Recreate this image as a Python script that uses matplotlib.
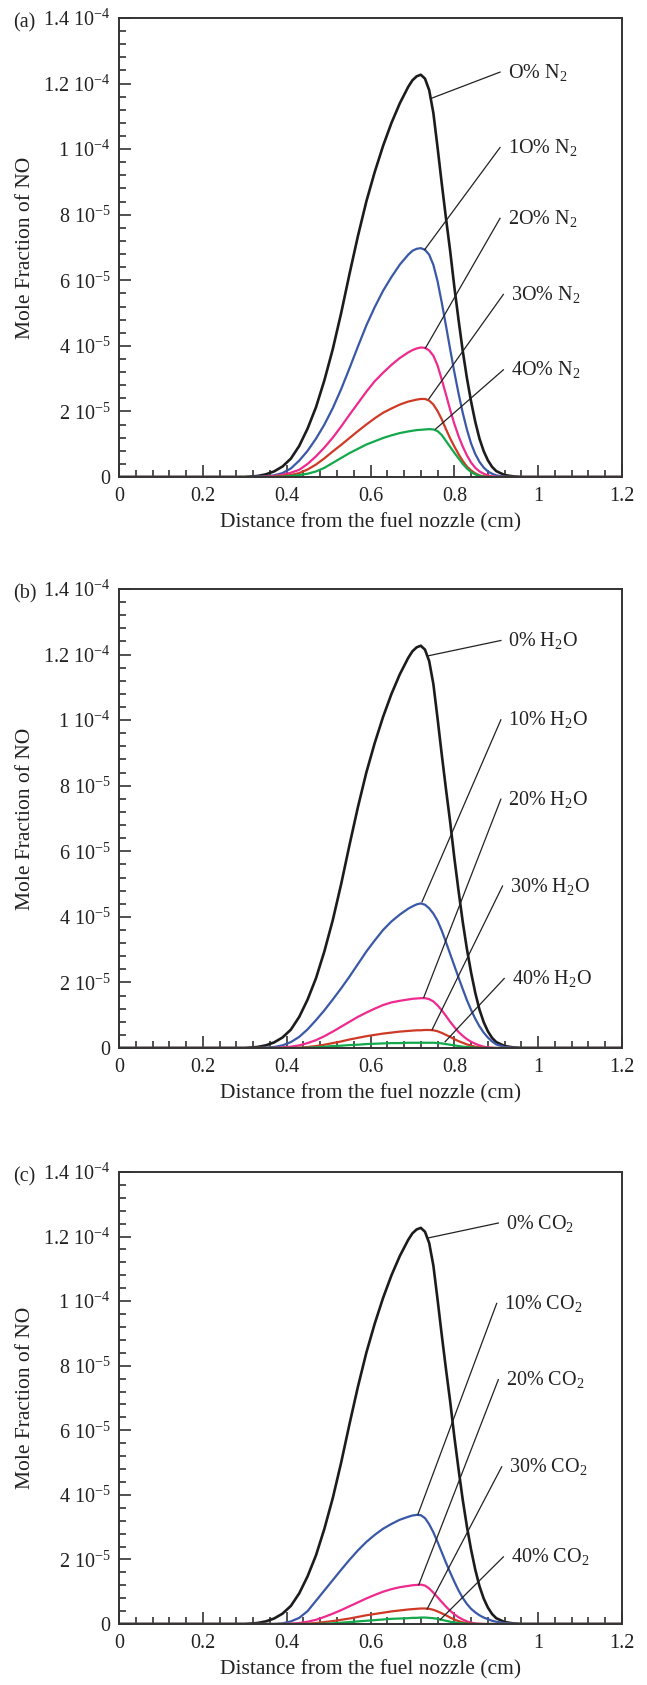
import matplotlib
matplotlib.use('Agg')
import matplotlib.pyplot as plt
import numpy as np
from matplotlib.ticker import FixedLocator, MultipleLocator

plt.rcParams['font.family'] = ['Liberation Serif', 'DejaVu Serif']
plt.rcParams['mathtext.fontset'] = 'custom'
plt.rcParams['mathtext.rm'] = 'Liberation Serif'
plt.rcParams['mathtext.it'] = 'Liberation Serif:italic'
plt.rcParams['mathtext.bf'] = 'Liberation Serif:bold'

# distance from the fuel nozzle (cm), shared by every curve
x_cm = [0.0, 0.30, 0.33, 0.35, 0.37, 0.39, 0.41, 0.43, 0.45, 0.47, 0.49,
        0.51, 0.53, 0.55, 0.57, 0.59, 0.61, 0.63, 0.65, 0.67, 0.69,
        0.70, 0.71, 0.72, 0.73, 0.74, 0.75, 0.76, 0.77, 0.78, 0.79, 0.80,
        0.81, 0.82, 0.83, 0.84, 0.85, 0.86, 0.87, 0.88, 0.89, 0.90,
        0.92, 0.94, 0.96, 0.98, 1.2]

# NO mole fraction in units of 1e-5
no_0 = [0, 0, 0.03, 0.08, 0.17, 0.32, 0.56, 0.95, 1.48, 2.13, 2.95,
        3.9, 5.0, 6.2, 7.35, 8.4, 9.3, 10.1, 10.8, 11.4, 11.9,
        12.1, 12.22, 12.27, 12.15, 11.8, 11.1, 10.05, 8.95, 7.9, 6.9, 5.8,
        4.8, 3.85, 3.02, 2.3, 1.68, 1.17, 0.79, 0.51, 0.31, 0.18,
        0.06, 0.02, 0, 0, 0]

n2_10 = [0, 0, 0.01, 0.02, 0.05, 0.12, 0.26, 0.5, 0.8, 1.17, 1.6,
         2.1, 2.68, 3.32, 3.98, 4.62, 5.18, 5.68, 6.1, 6.48, 6.78,
         6.9, 6.96, 6.98, 6.93, 6.78, 6.47, 5.97, 5.32, 4.62, 3.9, 3.2,
         2.55, 1.96, 1.45, 1.02, 0.7, 0.46, 0.29, 0.17, 0.1, 0.05,
         0.01, 0, 0, 0, 0]
n2_20 = [0, 0, 0, 0.01, 0.03, 0.07, 0.13, 0.22, 0.4, 0.63, 0.9,
         1.2, 1.54, 1.9, 2.25, 2.6, 2.92, 3.18, 3.42, 3.63, 3.8,
         3.87, 3.92, 3.95, 3.94, 3.86, 3.7, 3.4, 2.97, 2.52, 2.05, 1.62,
         1.25, 0.93, 0.66, 0.44, 0.28, 0.17, 0.1, 0.05, 0.02, 0.01,
         0, 0, 0, 0, 0]
n2_30 = [0, 0, 0, 0, 0.01, 0.03, 0.06, 0.12, 0.23, 0.38, 0.57,
         0.78, 0.98, 1.19, 1.4, 1.6, 1.79, 1.96, 2.09, 2.21, 2.3,
         2.33, 2.36, 2.38, 2.38, 2.33, 2.21, 2.01, 1.76, 1.46, 1.18, 0.93,
         0.7, 0.49, 0.32, 0.2, 0.11, 0.05, 0.02, 0.01, 0, 0,
         0, 0, 0, 0, 0]
n2_40 = [0, 0, 0, 0, 0, 0.01, 0.03, 0.06, 0.1, 0.17, 0.28,
         0.43, 0.58, 0.73, 0.86, 0.99, 1.09, 1.19, 1.27, 1.34, 1.39,
         1.41, 1.43, 1.44, 1.45, 1.46, 1.45, 1.4, 1.28, 1.1, 0.92, 0.74,
         0.57, 0.4, 0.26, 0.15, 0.08, 0.03, 0.01, 0, 0, 0,
         0, 0, 0, 0, 0]

h2o_10 = [0, 0, 0, 0.01, 0.03, 0.08, 0.18, 0.34, 0.57, 0.85, 1.15,
          1.48, 1.82, 2.18, 2.56, 2.94, 3.28, 3.6, 3.86, 4.07, 4.25,
          4.32, 4.38, 4.41, 4.37, 4.26, 4.1, 3.88, 3.58, 3.23, 2.87, 2.51,
          2.15, 1.8, 1.46, 1.16, 0.89, 0.66, 0.47, 0.32, 0.2, 0.11,
          0.03, 0.01, 0, 0, 0]
h2o_20 = [0, 0, 0, 0, 0, 0.02, 0.04, 0.08, 0.15, 0.24, 0.36,
          0.5, 0.65, 0.8, 0.95, 1.08, 1.2, 1.31, 1.39, 1.44, 1.48,
          1.5, 1.51, 1.52, 1.52, 1.49, 1.42, 1.3, 1.15, 0.98, 0.8, 0.64,
          0.49, 0.37, 0.27, 0.19, 0.13, 0.08, 0.04, 0.02, 0.01, 0,
          0, 0, 0, 0, 0]
h2o_30 = [0, 0, 0, 0, 0, 0, 0, 0.01, 0.03, 0.06, 0.1,
          0.15, 0.2, 0.26, 0.31, 0.36, 0.4, 0.44, 0.47, 0.5, 0.52,
          0.53, 0.54, 0.54, 0.55, 0.55, 0.54, 0.51, 0.46, 0.4, 0.34, 0.27,
          0.21, 0.16, 0.11, 0.07, 0.04, 0.02, 0.01, 0, 0, 0,
          0, 0, 0, 0, 0]
h2o_40 = [0, 0, 0, 0, 0, 0, 0, 0, 0.01, 0.02, 0.04,
          0.06, 0.07, 0.09, 0.1, 0.12, 0.13, 0.14, 0.15, 0.15, 0.16,
          0.16, 0.16, 0.16, 0.16, 0.16, 0.16, 0.15, 0.14, 0.12, 0.1, 0.08,
          0.06, 0.04, 0.03, 0.02, 0.01, 0, 0, 0, 0, 0,
          0, 0, 0, 0, 0]

co2_10 = [0, 0, 0, 0, 0, 0.02, 0.08, 0.19, 0.4, 0.72, 1.04,
          1.36, 1.68, 1.99, 2.28, 2.54, 2.76, 2.95, 3.1, 3.23, 3.32,
          3.36, 3.38, 3.37, 3.28, 3.09, 2.84, 2.54, 2.22, 1.9, 1.6, 1.31,
          1.04, 0.81, 0.62, 0.47, 0.36, 0.27, 0.2, 0.15, 0.1, 0.07,
          0.03, 0.01, 0, 0, 0]
co2_20 = [0, 0, 0, 0, 0, 0, 0.01, 0.03, 0.07, 0.13, 0.22,
          0.32, 0.43, 0.55, 0.67, 0.79, 0.9, 1.0, 1.08, 1.14, 1.18,
          1.2, 1.21, 1.22, 1.19, 1.1, 0.97, 0.83, 0.68, 0.54, 0.41, 0.3,
          0.21, 0.14, 0.08, 0.04, 0.02, 0.01, 0, 0, 0, 0,
          0, 0, 0, 0, 0]
co2_30 = [0, 0, 0, 0, 0, 0, 0, 0, 0.01, 0.03, 0.06,
          0.09, 0.13, 0.17, 0.22, 0.27, 0.31, 0.35, 0.39, 0.42, 0.45,
          0.46, 0.47, 0.48, 0.48, 0.47, 0.44, 0.39, 0.33, 0.27, 0.2, 0.14,
          0.09, 0.05, 0.03, 0.01, 0, 0, 0, 0, 0, 0,
          0, 0, 0, 0, 0]
co2_40 = [0, 0, 0, 0, 0, 0, 0, 0, 0, 0, 0.01,
          0.02, 0.04, 0.06, 0.08, 0.1, 0.12, 0.14, 0.16, 0.17, 0.18,
          0.19, 0.19, 0.2, 0.2, 0.19, 0.18, 0.16, 0.13, 0.1, 0.07, 0.05,
          0.03, 0.02, 0.01, 0, 0, 0, 0, 0, 0, 0,
          0, 0, 0, 0, 0]

labels_a = ['O% N$_2$', '1O% N$_2$', '2O% N$_2$', '3O% N$_2$', '4O% N$_2$']
labels_b = ['0% H$_2$O', '10% H$_2$O', '20% H$_2$O', '30% H$_2$O', '40% H$_2$O']
labels_c = ['0% CO$_2$', '10% CO$_2$', '20% CO$_2$', '30% CO$_2$', '40% CO$_2$']

x_ticks = [0, 0.2, 0.4, 0.6, 0.8, 1.0, 1.2]
x_tick_labels = ['0', '0.2', '0.4', '0.6', '0.8', '1', '1.2']
y_ticks = [0, 2e-5, 4e-5, 6e-5, 8e-5, 1e-4, 1.2e-4, 1.4e-4]
y_tick_labels = ['0', '2 10$^{-5}$', '4 10$^{-5}$', '6 10$^{-5}$', '8 10$^{-5}$',
                 '1 10$^{-4}$', '1.2 10$^{-4}$', '1.4 10$^{-4}$']

colors = ['#1c1c1c', '#3a58a8', '#ee2a8f', '#cf3a26', '#12a84b']
widths = [1.9, 1.6, 1.6, 1.6, 1.6]

# leader lines: curve point -> label point (x, y in 1e-5)
leaders_a = [(0.743, 11.54, 0.909, 12.35), (0.729, 6.93, 0.909, 10.05),
             (0.731, 3.93, 0.909, 7.89), (0.739, 2.38, 0.917, 5.57),
             (0.755, 1.46, 0.917, 3.27)]
leaders_b = [(0.737, 11.96, 0.911, 12.43), (0.723, 4.46, 0.911, 10.01),
             (0.727, 1.54, 0.911, 7.59), (0.747, 0.56, 0.915, 4.94),
             (0.778, 0.19, 0.919, 2.12)]
leaders_c = [(0.735, 11.95, 0.905, 12.42), (0.713, 3.39, 0.901, 9.93),
             (0.715, 1.21, 0.905, 7.57), (0.735, 0.46, 0.913, 4.87),
             (0.766, 0.13, 0.917, 2.08)]

W, H = 647, 1685
fig = plt.figure(figsize=(W / 100, H / 100), dpi=100)

# axes boxes in pixels: left, top, right, bottom
boxes = [(119, 18, 622, 477), (119, 589, 622, 1048), (119, 1172, 622, 1624)]


def draw_panel(box, curves, labels, leaders, tag):
    l, t, r, b = box
    ax = fig.add_axes([l / W, 1 - b / H, (r - l) / W, (b - t) / H])
    x = np.array(x_cm)
    for y, c, lw in zip(curves, colors, widths):
        ax.plot(x, np.array(y) * 1e-5, color=c, lw=lw, solid_joinstyle='round')
    for (x0, y0, x1, y1), lab in zip(leaders, labels):
        ax.plot([x0, x1], [y0 * 1e-5, y1 * 1e-5], color='#222222', lw=0.9)
        ax.text(x1 + 0.018, y1 * 1e-5, lab, fontsize=14.5, ha='left', va='center',
                color='#222222')
    ax.set_xlim(0, 1.2)
    ax.set_ylim(0, 1.4e-4)
    ax.xaxis.set_major_locator(FixedLocator(x_ticks))
    ax.set_xticklabels(x_tick_labels)
    ax.xaxis.set_minor_locator(MultipleLocator(0.04))
    ax.yaxis.set_major_locator(FixedLocator(y_ticks))
    ax.set_yticklabels(y_tick_labels)
    ax.yaxis.set_minor_locator(MultipleLocator(0.4e-5))
    ax.tick_params(which='both', direction='in', top=False, right=False,
                   color='#222222', width=1.1, labelsize=14.5, labelcolor='#222222')
    ax.tick_params(which='major', length=8.6)
    ax.tick_params(which='minor', length=5)
    ax.tick_params(axis='x', pad=7.5)
    ax.tick_params(axis='y', pad=6)
    for s in ax.spines.values():
        s.set_color('#333333')
        s.set_linewidth(1.4)
    hpx = b - t
    wpx = r - l
    ax.set_xlabel('Distance from the fuel nozzle (cm)', fontsize=15.5, color='#222222')
    ax.xaxis.set_label_coords(0.5, -36 / hpx)
    ax.set_ylabel('Mole Fraction of NO', fontsize=15.5, color='#222222')
    ax.yaxis.set_label_coords(-84 / wpx, 0.5)
    ax.text(-106 / wpx, 1 - 5 / hpx, tag, transform=ax.transAxes, fontsize=14.5,
            ha='left', va='center', color='#222222')
    return ax


draw_panel(boxes[0], [no_0, n2_10, n2_20, n2_30, n2_40], labels_a, leaders_a, '(a)')
draw_panel(boxes[1], [no_0, h2o_10, h2o_20, h2o_30, h2o_40], labels_b, leaders_b, '(b)')
draw_panel(boxes[2], [no_0, co2_10, co2_20, co2_30, co2_40], labels_c, leaders_c, '(c)')

fig.savefig('out.png', dpi=100)
